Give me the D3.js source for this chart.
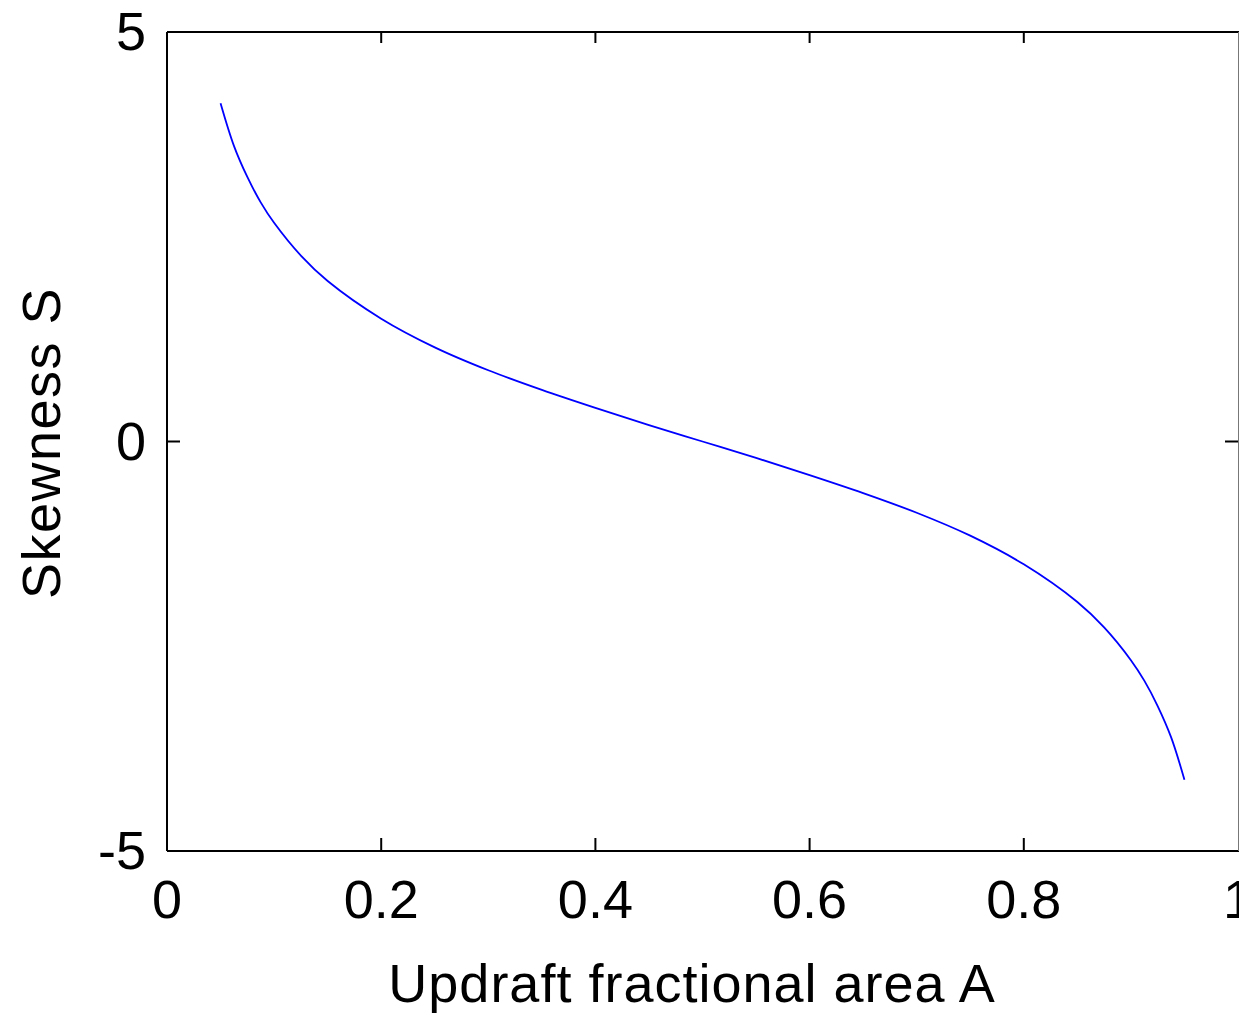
<!DOCTYPE html>
<html>
<head>
<meta charset="utf-8">
<script src="https://cdn.jsdelivr.net/npm/d3@7"></script>
<style>
  body { margin: 0; background: #fff; overflow: hidden; }
  text { font-family: "Liberation Sans", Arial, sans-serif; fill: #000; }
</style>
</head>
<body>
<div id="chart"></div>
<script>
// values
var areaA = [0.05, 0.0625, 0.075, 0.0875, 0.10, 0.125, 0.15, 0.20, 0.25, 0.30, 0.35, 0.40, 0.45, 0.50,
             0.55, 0.60, 0.65, 0.70, 0.75, 0.80, 0.85, 0.875, 0.90, 0.9125, 0.925, 0.9375, 0.95];
var skewS = [4.13, 3.61, 3.23, 2.92, 2.67, 2.27, 1.96, 1.50, 1.15, 0.87, 0.63, 0.41, 0.20, 0.00,
             -0.20, -0.41, -0.63, -0.87, -1.15, -1.50, -1.96, -2.27, -2.67, -2.92, -3.23, -3.61, -4.13];
var xTicks = [0, 0.2, 0.4, 0.6, 0.8, 1];
var yTicks = [-5, 0, 5];

var width = 1239, height = 1015;
var margin = {top: 32, left: 167, right: 0, bottom: 164};

var svg = d3.select('#chart')
    .append('svg')
    .attr('width', width)
    .attr('height', height);

var x = d3.scaleLinear().domain([0, 1]).range([margin.left, margin.left + 1071]);
var y = d3.scaleLinear().domain([-5, 5]).range([851, 32]);

var data = areaA.map(function(a, i) { return {a: a, s: skewS[i]}; });

// frame
svg.append('line')
    .attr('x1', x(0)).attr('x2', x(0)).attr('y1', y(5)).attr('y2', y(-5))
    .attr('stroke', '#000').attr('stroke-width', 2);
svg.append('line')
    .attr('x1', x(0)).attr('x2', width).attr('y1', y(5)).attr('y2', y(5))
    .attr('stroke', '#000').attr('stroke-width', 2);
svg.append('line')
    .attr('x1', x(0)).attr('x2', width).attr('y1', y(-5)).attr('y2', y(-5))
    .attr('stroke', '#000').attr('stroke-width', 2);
svg.append('line')
    .attr('x1', 1238.5).attr('x2', 1238.5).attr('y1', y(5)).attr('y2', y(-5))
    .attr('stroke', '#777').attr('stroke-width', 1);

// ticks pointing inward
var xInner = xTicks.filter(function(d) { return d > 0 && d < 1; });
svg.selectAll('.xtb').data(xInner).enter().append('line')
    .attr('x1', function(d) { return x(d); }).attr('x2', function(d) { return x(d); })
    .attr('y1', y(-5)).attr('y2', y(-5) - 13)
    .attr('stroke', '#000').attr('stroke-width', 2);
svg.selectAll('.xtt').data(xInner).enter().append('line')
    .attr('x1', function(d) { return x(d); }).attr('x2', function(d) { return x(d); })
    .attr('y1', y(5)).attr('y2', y(5) + 11)
    .attr('stroke', '#000').attr('stroke-width', 2);
svg.append('line')
    .attr('x1', x(0)).attr('x2', x(0) + 13).attr('y1', y(0)).attr('y2', y(0))
    .attr('stroke', '#000').attr('stroke-width', 2);
svg.append('line')
    .attr('x1', 1238).attr('x2', 1225).attr('y1', y(0)).attr('y2', y(0))
    .attr('stroke', '#000').attr('stroke-width', 2);

// tick labels
svg.selectAll('.xlab').data(xTicks).enter().append('text')
    .attr('x', function(d) { return x(d); })
    .attr('y', 918)
    .attr('text-anchor', 'middle')
    .attr('font-size', '54px')
    .text(function(d) { return d3.format('')(d); });

svg.selectAll('.ylab').data(yTicks).enter().append('text')
    .attr('x', 146)
    .attr('y', function(d) { return y(d) + 18; })
    .attr('text-anchor', 'end')
    .attr('font-size', '54px')
    .text(function(d) { return d; });

// axis titles
svg.append('text')
    .attr('x', 692).attr('y', 1002)
    .attr('text-anchor', 'middle')
    .attr('font-size', '54px')
    .attr('letter-spacing', '1px')
    .text('Updraft fractional area A');

svg.append('text')
    .attr('transform', 'translate(60,443) rotate(-90)')
    .attr('text-anchor', 'middle')
    .attr('font-size', '54px')
    .attr('letter-spacing', '1.5px')
    .text('Skewness S');

// curve
var line = d3.line()
    .x(function(d) { return x(d.a); })
    .y(function(d) { return y(d.s); })
    .curve(d3.curveCatmullRom);

svg.append('path')
    .datum(data)
    .attr('d', line)
    .attr('fill', 'none')
    .attr('stroke', '#0000ff')
    .attr('stroke-width', 1.8);
</script>
</body>
</html>
